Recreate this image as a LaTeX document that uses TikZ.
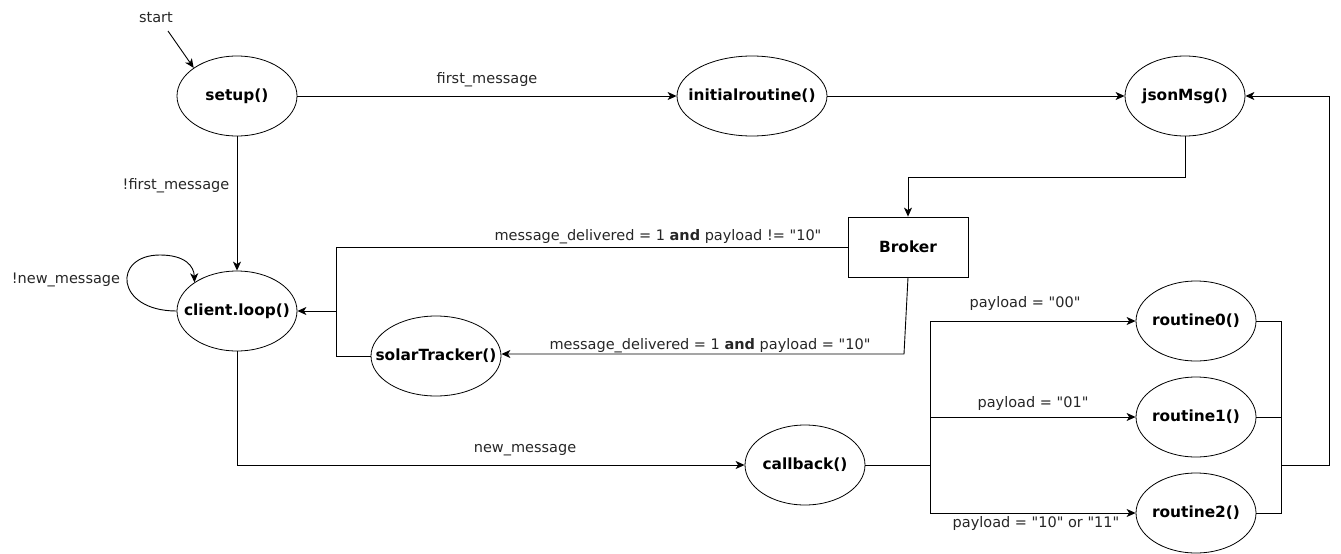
\documentclass[tikz,border=0pt]{standalone}
\usepackage{fontspec}
\setmainfont{DejaVu Sans}[Ligatures=TeXOff]
\usetikzlibrary{arrows.meta,shapes.geometric,calc}
\begin{document}
\begin{tikzpicture}[x=1pt,y=-1pt,
  every node/.style={font=\fontsize{14.5}{17}\selectfont},
  state/.style={draw, ellipse, minimum width=120pt, minimum height=80pt, inner sep=0pt, line width=0.8pt, font=\fontsize{15.4}{18}\selectfont\bfseries},
  boxnode/.style={draw, rectangle, minimum width=120pt, minimum height=60pt, inner sep=0pt, line width=0.8pt, font=\fontsize{15.4}{18}\selectfont\bfseries},
  arr/.style={-{Stealth[length=9pt,width=8pt,inset=2.5pt]}, line width=0.9pt},
  plain/.style={line width=0.9pt},
  lbl/.style={inner sep=0pt, text=black!85}]
\useasboundingbox (0,0) rectangle (1341,554);

\node[state] (setup) at (237,96) {\makebox[0pt]{setup()}};
\node[state, minimum width=150pt] (init) at (752,96) {\makebox[0pt]{initialroutine()}};
\node[state] (json) at (1185,96) {\makebox[0pt]{jsonMsg()}};
\node[boxnode] (broker) at (908,247) {Broker};
\node[state] (loop) at (237,311) {\makebox[0pt]{client.loop()}};
\node[state, minimum width=130pt] (st) at (436,356) {\makebox[0pt]{solarTracker()}};
\node[state] (cb) at (805,465) {\makebox[0pt]{callback()}};
\node[state] (r0) at (1196,321) {\makebox[0pt]{routine0()}};
\node[state] (r1) at (1196,417) {\makebox[0pt]{routine1()}};
\node[state] (r2) at (1196,513) {\makebox[0pt]{routine2()}};

% start
\node[lbl] (start) at (156,18) {start};
\coordinate (s0) at (168,31);
\draw[arr] (s0) -- (setup.147);

% top row
\draw[arr] (setup.east) -- node[lbl, above=9pt] (l1) {first\_message} (init.west);
\draw[arr] (init.east) -- (json.west);

% json -> broker
\draw[arr] (json.south) -- ++(0,41) -| (broker.north);

% setup -> loop
\draw[arr] (setup.south) -- (loop.north);
\node[lbl] (l2) at (176,186) {!first\_message};

% self loop
\draw[arr] (loop.west) .. controls (115,311) and (112,255) .. (160,255)
  .. controls (185,255) and (194,266) .. (loop.146);
\node[lbl] (l3) at (66,280) {!new\_message};

% broker -> loop
\coordinate (j1) at (336,311);
\draw[arr] (broker.west) -| (j1) -- (loop.east);
\draw[plain] (st.west) -| (j1);
\node[lbl] (l4) at (658,237) {message\_delivered = 1 \textbf{and} payload != "10"};

% broker -> solarTracker
\coordinate (b1) at (904,354);
\draw[arr] (broker.south) -- (b1) -- (st.east |- b1);
\node[lbl] (l5) at (710,346) {message\_delivered = 1 \textbf{and} payload = "10"};

% loop -> callback
\draw[arr] (loop.south) |- (cb.west);
\node[lbl] (l6) at (525,450) {new\_message};

% callback -> routines
\coordinate (j2) at (930,465);
\draw[plain] (cb.east) -- (j2);
\draw[arr] (j2) |- (r0.west);
\draw[arr] (j2) |- (r1.west);
\draw[arr] (j2) |- (r2.west);
\node[lbl] (l7) at (1025,303) {payload = "00"};
\node[lbl] (l8) at (1033,403) {payload = "01"};
\node[lbl] (l9) at (1036,523) {payload = "10" or "11"};

% routines -> json
\coordinate (j3) at (1281,465);
\coordinate (c1) at (1329,465);
\draw[plain] (r0.east) -| (j3);
\draw[plain] (r1.east) -| (j3);
\draw[plain] (r2.east) -| (j3);
\draw[arr] (j3) -- (c1) |- (json.east);
\end{tikzpicture}
\end{document}
